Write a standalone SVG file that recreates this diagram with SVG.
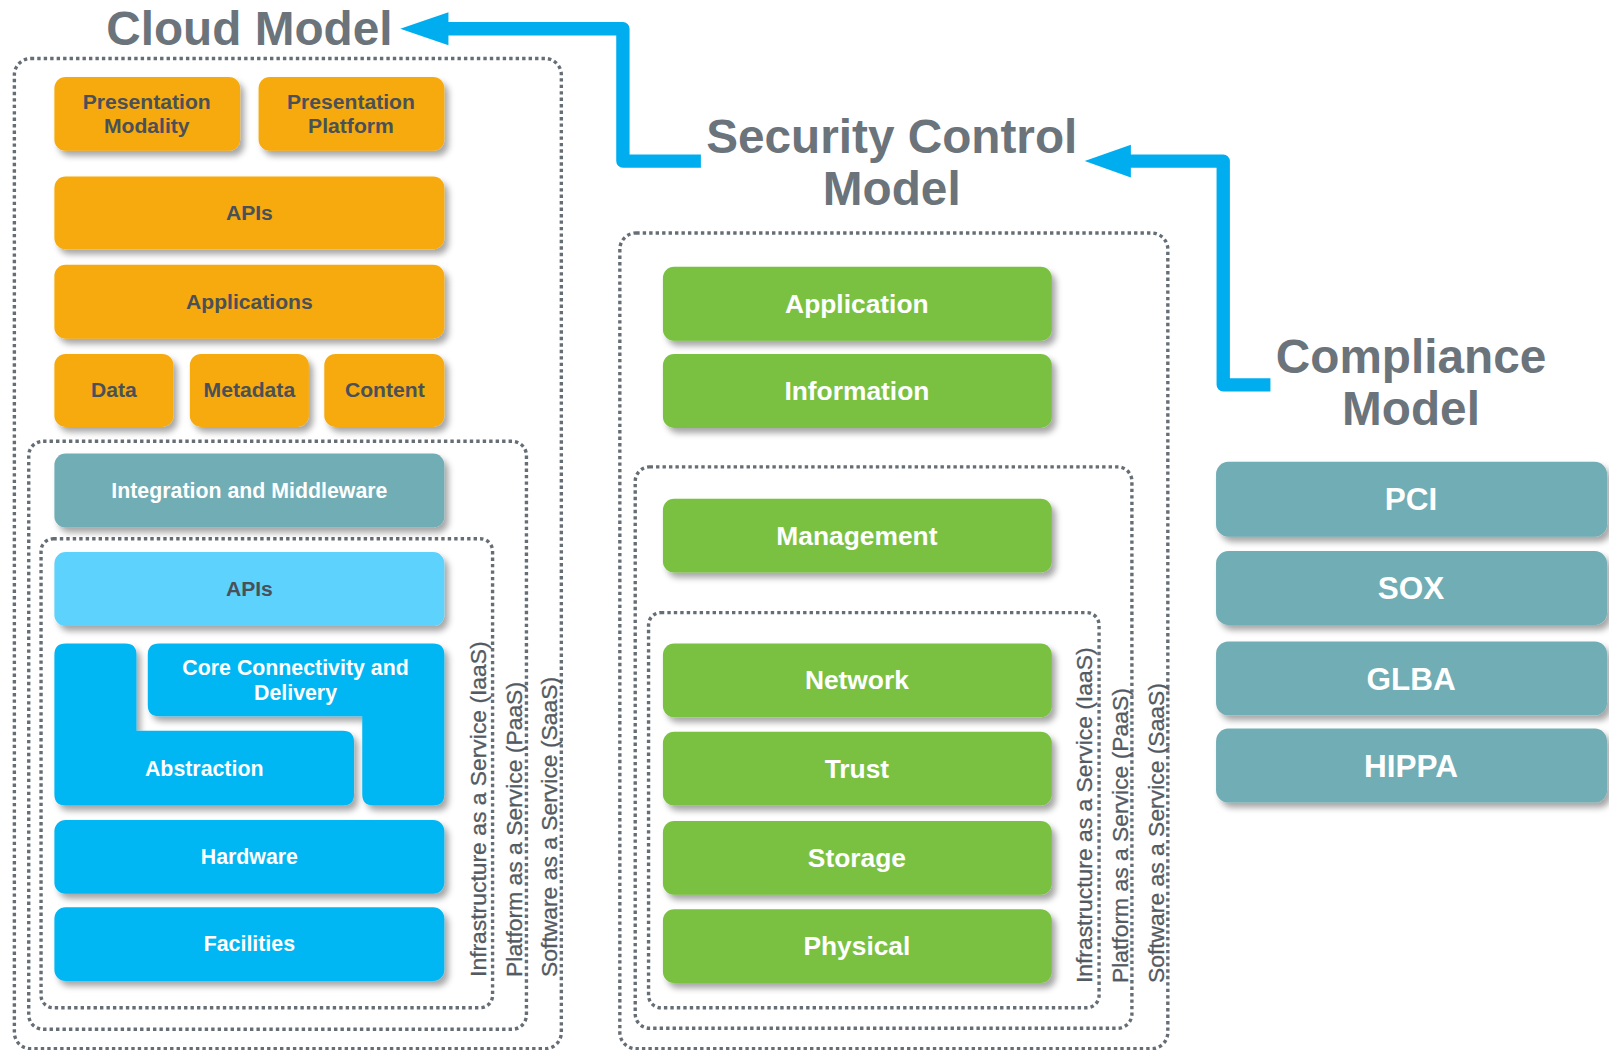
<svg xmlns="http://www.w3.org/2000/svg" width="1609" height="1050" viewBox="0 0 1609 1050">
<defs>
<filter id="sh" x="-10%" y="-20%" width="130%" height="150%">
<feDropShadow dx="4" dy="5" stdDeviation="3" flood-color="#000" flood-opacity="0.35"/>
</filter>
<style>
.title{font-family:"Liberation Sans",Arial,sans-serif;font-weight:bold;font-size:46.5px;fill:#6b737b;text-anchor:middle}
.dot{fill:none;stroke:#656d75;stroke-width:3.3;stroke-dasharray:3.3 3}
.org{fill:#f6aa0b;filter:url(#sh)}
.teal{fill:#71adb5;filter:url(#sh)}
.lblue{fill:#5bd2fc;filter:url(#sh)}
.cyan{fill:#00b7f4;filter:url(#sh)}
.grn{fill:#7ac142;filter:url(#sh)}
.t{font-family:"Liberation Sans",Arial,sans-serif;font-weight:bold;text-anchor:middle}
.od{font-size:20.6px;fill:#4a5058}
.wh{font-size:20.8px;fill:#ffffff}
.gt{font-size:25.7px;fill:#ffffff}
.ct{font-size:30.7px;fill:#ffffff}
.vt{font-family:"Liberation Sans",Arial,sans-serif;font-size:22.3px;fill:#535a62;stroke:#535a62;stroke-width:0.3}
.arr{fill:none;stroke:#00aeef;stroke-width:13;stroke-linejoin:round}
</style>
</defs>
<rect width="1609" height="1050" fill="#ffffff"/>
<g transform="scale(1.0262)">

<g id="titles">
<text class="title" x="243" y="44">Cloud Model</text>
<text class="title" x="869" y="149">Security Control</text>
<text class="title" x="869" y="200">Model</text>
<text class="title" x="1375" y="363">Compliance</text>
<text class="title" x="1375" y="414">Model</text>
</g>

<g id="connectors">
<path class="arr" d="M683,157 H607 V28 H430"/>
<polygon points="390,28 437,12 437,44" fill="#00aeef"/>
<path class="arr" d="M1238,375 H1192 V157 H1095"/>
<polygon points="1057,157 1102,141 1102,173" fill="#00aeef"/>
</g>

<g id="cloud-boundaries">
<rect class="dot" x="14" y="57" width="533" height="965" rx="16"/>
<rect class="dot" x="28" y="430" width="485" height="573" rx="14"/>
<rect class="dot" x="40" y="525" width="440" height="457" rx="12"/>
<text class="vt" transform="translate(474,952) rotate(-90)">Infrastructure as a Service (IaaS)</text>
<text class="vt" transform="translate(509,952) rotate(-90)">Platform as a Service (PaaS)</text>
<text class="vt" transform="translate(543,952) rotate(-90)">Software as a Service (SaaS)</text>
</g>

<g id="presentation-modality"><rect class="org" x="53" y="75" width="181" height="72" rx="11"/><text class="t od" x="143" y="106">Presentation</text><text class="t od" x="143" y="130">Modality</text></g>
<g id="presentation-platform"><rect class="org" x="252" y="75" width="181" height="72" rx="11"/><text class="t od" x="342" y="106">Presentation</text><text class="t od" x="342" y="130">Platform</text></g>
<g id="apis-top"><rect class="org" x="53" y="172" width="380" height="71" rx="11"/><text class="t od" x="243" y="214">APIs</text></g>
<g id="applications"><rect class="org" x="53" y="258" width="380" height="72" rx="11"/><text class="t od" x="243" y="301">Applications</text></g>
<g id="data"><rect class="org" x="53" y="345" width="116" height="71" rx="11"/><text class="t od" x="111" y="387">Data</text></g>
<g id="metadata"><rect class="org" x="185" y="345" width="116" height="71" rx="11"/><text class="t od" x="243" y="387">Metadata</text></g>
<g id="content"><rect class="org" x="316" y="345" width="117" height="71" rx="11"/><text class="t od" x="375" y="387">Content</text></g>
<g id="integration"><rect class="teal" x="53" y="442" width="380" height="72" rx="11"/><text class="t wh" x="243" y="485">Integration and Middleware</text></g>
<g id="apis-bottom"><rect class="lblue" x="53" y="538" width="380" height="72" rx="11"/><text class="t od" x="243" y="581">APIs</text></g>
<g id="abstraction"><path class="cyan" d="M64,627 H122 Q133,627 133,638 V712 H334 Q345,712 345,723 V774 Q345,785 334,785 H64 Q53,785 53,774 V638 Q53,627 64,627 Z"/><text class="t wh" x="199" y="756">Abstraction</text></g>
<g id="core-connectivity"><path class="cyan" d="M155,627 H422 Q433,627 433,638 V774 Q433,785 422,785 H364 Q353,785 353,774 V698 H155 Q144,698 144,687 V638 Q144,627 155,627 Z"/><text class="t wh" x="288" y="658">Core Connectivity and</text><text class="t wh" x="288" y="682">Delivery</text></g>
<g id="hardware"><rect class="cyan" x="53" y="799" width="380" height="72" rx="11"/><text class="t wh" x="243" y="842">Hardware</text></g>
<g id="facilities"><rect class="cyan" x="53" y="884" width="380" height="72" rx="11"/><text class="t wh" x="243" y="927">Facilities</text></g>

<g id="security-boundaries">
<rect class="dot" x="604" y="227" width="534" height="795" rx="16"/>
<rect class="dot" x="619" y="455" width="484" height="547" rx="14"/>
<rect class="dot" x="632" y="597" width="439" height="385" rx="12"/>
<text class="vt" transform="translate(1064,958) rotate(-90)">Infrastructure as a Service (IaaS)</text>
<text class="vt" transform="translate(1099,958) rotate(-90)">Platform as a Service (PaaS)</text>
<text class="vt" transform="translate(1134,958) rotate(-90)">Software as a Service (SaaS)</text>
</g>

<g id="application"><rect class="grn" x="646" y="260" width="379" height="72" rx="11"/><text class="t gt" x="835" y="305">Application</text></g>
<g id="information"><rect class="grn" x="646" y="345" width="379" height="72" rx="11"/><text class="t gt" x="835" y="390">Information</text></g>
<g id="management"><rect class="grn" x="646" y="486" width="379" height="72" rx="11"/><text class="t gt" x="835" y="531">Management</text></g>
<g id="network"><rect class="grn" x="646" y="627" width="379" height="72" rx="11"/><text class="t gt" x="835" y="671">Network</text></g>
<g id="trust"><rect class="grn" x="646" y="713" width="379" height="72" rx="11"/><text class="t gt" x="835" y="758">Trust</text></g>
<g id="storage"><rect class="grn" x="646" y="800" width="379" height="72" rx="11"/><text class="t gt" x="835" y="845">Storage</text></g>
<g id="physical"><rect class="grn" x="646" y="886" width="379" height="72" rx="11"/><text class="t gt" x="835" y="931">Physical</text></g>

<g id="pci"><rect class="teal" x="1185" y="450" width="381" height="73" rx="12"/><text class="t ct" x="1375" y="497">PCI</text></g>
<g id="sox"><rect class="teal" x="1185" y="537" width="381" height="72" rx="12"/><text class="t ct" x="1375" y="584">SOX</text></g>
<g id="glba"><rect class="teal" x="1185" y="625" width="381" height="72" rx="12"/><text class="t ct" x="1375" y="672">GLBA</text></g>
<g id="hippa"><rect class="teal" x="1185" y="710" width="381" height="72" rx="12"/><text class="t ct" x="1375" y="757">HIPPA</text></g>
</g>
</svg>
